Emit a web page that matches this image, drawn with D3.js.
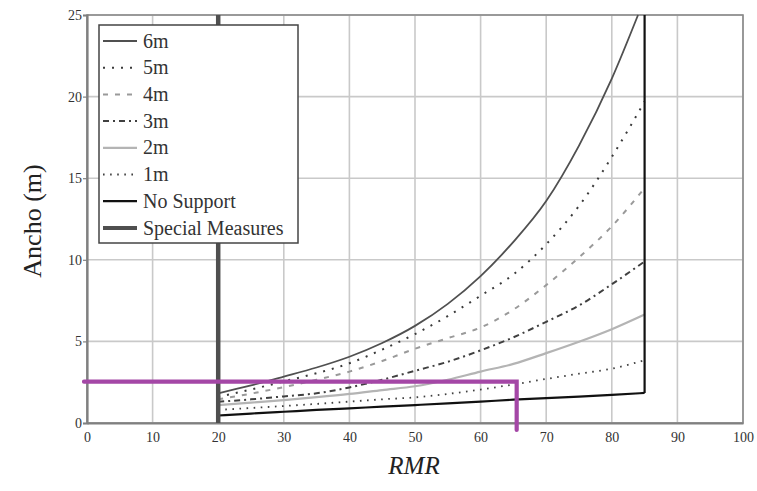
<!DOCTYPE html>
<html><head><meta charset="utf-8">
<script src="https://cdn.jsdelivr.net/npm/d3@7/dist/d3.min.js"></script>
<style>
html,body{margin:0;padding:0;background:#fff;}
svg{display:block;}
svg text{font-family:"Liberation Serif","DejaVu Serif",serif !important;}
</style></head>
<body>
<svg id="chart" width="757" height="491"></svg>
<script>
// ---- data ----
const rmrPoints = [20,25,30,35,40,45,50,55,60,65,70,75,80,85];
const rmr6m = [20,25,30,35,40,45,50,55,60,65,70,75,80,84];
const span6m = [1.82,2.3,2.84,3.4,4.06,4.9,5.95,7.3,9.0,11.1,13.6,17.0,21.1,25];
const span5m = [1.6,2.05,2.55,3.05,3.66,4.5,5.45,6.55,7.8,9.1,10.95,13.3,16.3,19.7];
const span4m = [1.45,1.8,2.2,2.65,3.15,3.8,4.55,5.2,5.85,6.95,8.45,10.15,12.05,14.4];
const span3m = [1.3,1.45,1.63,1.82,2.18,2.65,3.2,3.75,4.45,5.25,6.2,7.2,8.5,9.9];
const span2m = [1.1,1.25,1.4,1.58,1.78,2.02,2.25,2.65,3.15,3.62,4.28,4.98,5.75,6.65];
const span1m = [0.8,0.92,1.04,1.17,1.31,1.45,1.57,1.78,2.05,2.36,2.7,3.02,3.33,3.85];
const spanNoSupport = [0.46,0.58,0.69,0.8,0.9,1.0,1.1,1.2,1.31,1.43,1.53,1.62,1.72,1.84];
const noSupportLimit = 85;      // RMR of vertical no-support boundary
const specialMeasuresRMR = 20;  // RMR of special-measures boundary
const markerRMR = 65.5;         // highlighted RMR
const markerSpan = 2.53;        // highlighted span
const xTicks = [0,10,20,30,40,50,60,70,80,90,100];
const yTicks = [0,5,10,15,20,25];
const legendLabels = ["6m","5m","4m","3m","2m","1m","No Support","Special Measures"];

// ---- styles ----
const styles = {
  "6m": {stroke:"#505050", width:1.8, dash:null},
  "5m": {stroke:"#3a3a3a", width:2, dash:"2,7"},
  "4m": {stroke:"#9a9a9a", width:2, dash:"5,7"},
  "3m": {stroke:"#404040", width:2, dash:"6,4,2,4"},
  "2m": {stroke:"#b4b4b4", width:2.2, dash:null},
  "1m": {stroke:"#404040", width:1.8, dash:"1.6,5.5"},
  "No Support": {stroke:"#111", width:2.2, dash:null},
  "Special Measures": {stroke:"#4f4f4f", width:4.5, dash:null}
};
const FONT = '"Liberation Serif","DejaVu Serif",serif';

const svg = d3.select("#chart");
const x = d3.scaleLinear().domain([0,100]).range([87,743]);
const y = d3.scaleLinear().domain([0,25]).range([423,15]);

// grid
const g = svg.append("g");
g.selectAll("line.vg").data(xTicks).join("line")
  .attr("x1",d=>x(d)).attr("x2",d=>x(d)).attr("y1",y(0)).attr("y2",y(25))
  .attr("stroke","#c9c9c9").attr("stroke-width",1.6);
g.selectAll("line.hg").data(yTicks).join("line")
  .attr("x1",x(0)).attr("x2",x(100)).attr("y1",d=>y(d)).attr("y2",d=>y(d))
  .attr("stroke","#c9c9c9").attr("stroke-width",1.6);
// frame
g.append("rect").attr("x",x(0)).attr("y",y(25)).attr("width",x(100)-x(0)).attr("height",y(0)-y(25))
  .attr("fill","none").attr("stroke","#8a8a8a").attr("stroke-width",1.6);

// axes
const yAxis = d3.axisLeft(y).tickValues(yTicks).tickSize(4).tickPadding(1);
const ya = svg.append("g").attr("transform",`translate(${x(0)},0)`).call(yAxis)
  .attr("font-family",FONT);
ya.select(".domain").attr("stroke","#808080").attr("stroke-width",2.2);
ya.selectAll(".tick line").attr("stroke","#808080").attr("stroke-width",1.2);
ya.selectAll(".tick text").attr("font-size",14).attr("fill","#333");

const xAxis = d3.axisBottom(x).tickValues(xTicks).tickSize(0).tickPadding(9);
const xa = svg.append("g").attr("transform",`translate(0,${y(0)})`).call(xAxis)
  .attr("font-family",FONT);
xa.select(".domain").attr("stroke","#808080").attr("stroke-width",2.2);
xa.selectAll(".tick text").attr("font-size",14).attr("fill","#333");

// curves
const line = d3.line().x(d=>x(d[0])).y(d=>y(d[1])).curve(d3.curveMonotoneX);
const series = [
  ["6m", rmr6m, span6m],
  ["5m", rmrPoints, span5m],
  ["4m", rmrPoints, span4m],
  ["3m", rmrPoints, span3m],
  ["2m", rmrPoints, span2m],
  ["1m", rmrPoints, span1m],
  ["No Support", rmrPoints, spanNoSupport]
];
const cg = svg.append("g");
series.forEach(([name,xs,ys])=>{
  const st = styles[name];
  cg.append("path").datum(xs.map((v,i)=>[v,ys[i]]))
    .attr("d",line).attr("fill","none")
    .attr("stroke",st.stroke).attr("stroke-width",st.width)
    .attr("stroke-dasharray",st.dash);
});
// no-support vertical boundary
cg.append("line").attr("x1",x(noSupportLimit)).attr("x2",x(noSupportLimit))
  .attr("y1",y(spanNoSupport[spanNoSupport.length-1])).attr("y2",y(25))
  .attr("stroke",styles["No Support"].stroke).attr("stroke-width",styles["No Support"].width);
// special measures vertical
cg.append("line").attr("x1",x(specialMeasuresRMR)).attr("x2",x(specialMeasuresRMR))
  .attr("y1",y(0)).attr("y2",y(25))
  .attr("stroke",styles["Special Measures"].stroke).attr("stroke-width",styles["Special Measures"].width);

// legend
const lg = svg.append("g").attr("font-family",FONT);
lg.append("rect").attr("x",99).attr("y",25).attr("width",199).attr("height",218)
  .attr("fill","#fff").attr("stroke","#444").attr("stroke-width",1.5);
legendLabels.forEach((name,i)=>{
  const yy = 41 + i*26.7;
  const st = styles[name];
  lg.append("line").attr("x1",103).attr("x2",137).attr("y1",yy).attr("y2",yy)
    .attr("stroke",st.stroke).attr("stroke-width",Math.min(st.width,4))
    .attr("stroke-dasharray",st.dash);
  lg.append("text").attr("x",143).attr("y",yy).attr("dy","0.33em")
    .attr("font-size",20).attr("fill","#333").text(name);
});

// highlighted marker (purple)
const mg = svg.append("g");
mg.append("path")
  .attr("d",`M${x(0)-3},${y(markerSpan)} H${x(markerRMR)} V${y(0)+7}`)
  .attr("fill","none").attr("stroke","#a447a6").attr("stroke-width",4.2)
  .attr("stroke-linecap","round").attr("stroke-linejoin","miter");

// axis titles
svg.append("text").attr("transform",`translate(41,221) rotate(-90)`)
  .attr("font-family",FONT)
  .attr("text-anchor","middle").attr("font-size",26).attr("fill","#222").text("Ancho (m)");
svg.append("text").attr("x",414).attr("y",474).attr("text-anchor","middle")
  .attr("font-family",FONT)
  .attr("font-size",25).attr("font-style","italic").attr("fill","#222").text("RMR");
</script>
</body></html>
